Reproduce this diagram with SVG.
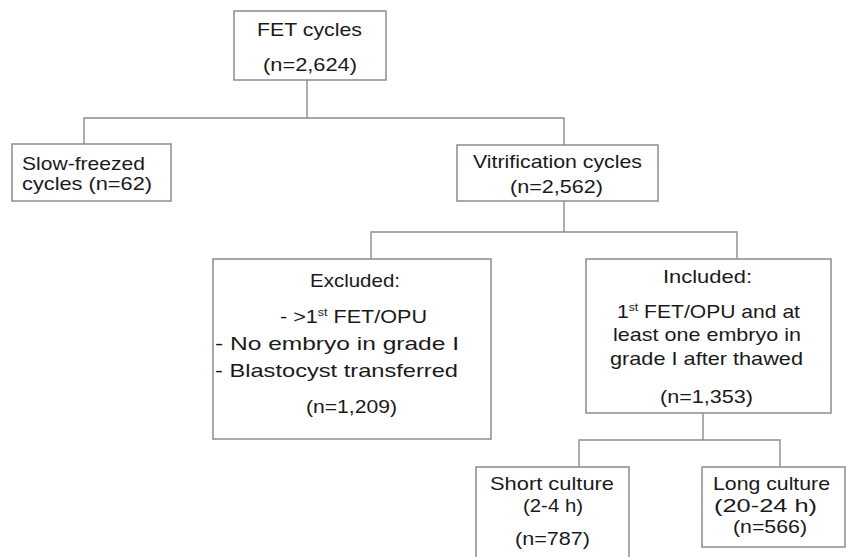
<svg xmlns="http://www.w3.org/2000/svg" width="846" height="557" viewBox="0 0 846 557">
<style>
.box{fill:#fff;stroke:#8c8c8c;stroke-width:1.5}
.ln{fill:none;stroke:#8c8c8c;stroke-width:1.4}
text{font-family:"Liberation Sans",Arial,sans-serif;font-size:19px;fill:#1a1a1a}
.sup{font-size:11px}
</style>
<rect width="846" height="557" fill="#fff"/>
<g id="connectors">
<path class="ln" d="M307,80V118M84,144V118H564V145"/>
<path class="ln" d="M564,201V232M371,259V232H737V259"/>
<path class="ln" d="M703,413V440M579,467V440H780V467"/>
</g>
<g id="fet">
<rect class="box" x="234" y="11" width="152" height="69"/>
<text x="257" y="36" textLength="105" lengthAdjust="spacingAndGlyphs">FET cycles</text>
<text x="263" y="71" textLength="94" lengthAdjust="spacingAndGlyphs">(n=2,624)</text>
</g>
<g id="slow">
<rect class="box" x="12" y="144" width="159" height="57"/>
<text x="22" y="170" textLength="123" lengthAdjust="spacingAndGlyphs">Slow-freezed</text>
<text x="22" y="190" textLength="130" lengthAdjust="spacingAndGlyphs">cycles (n=62)</text>
</g>
<g id="vitrification">
<rect class="box" x="457" y="145" width="201" height="56"/>
<text x="473" y="168" textLength="169" lengthAdjust="spacingAndGlyphs">Vitrification cycles</text>
<text x="510" y="193" textLength="93" lengthAdjust="spacingAndGlyphs">(n=2,562)</text>
</g>
<g id="excluded">
<rect class="box" x="213" y="259" width="278" height="180"/>
<text x="310" y="287" textLength="90" lengthAdjust="spacingAndGlyphs">Excluded:</text>
<text x="280" y="323" textLength="147" lengthAdjust="spacingAndGlyphs">- &gt;1<tspan class="sup" dy="-7">st</tspan><tspan dy="7"> FET/OPU</tspan></text>
<text x="215" y="350" textLength="244" lengthAdjust="spacingAndGlyphs">- No embryo in grade I</text>
<text x="215" y="377" textLength="243" lengthAdjust="spacingAndGlyphs">- Blastocyst transferred</text>
<text x="306" y="413" textLength="91" lengthAdjust="spacingAndGlyphs">(n=1,209)</text>
</g>
<g id="included">
<rect class="box" x="586" y="259" width="245" height="154"/>
<text x="663" y="283" textLength="89" lengthAdjust="spacingAndGlyphs">Included:</text>
<text x="617" y="318" textLength="183" lengthAdjust="spacingAndGlyphs">1<tspan class="sup" dy="-7">st</tspan><tspan dy="7"> FET/OPU and at</tspan></text>
<text x="613" y="341" textLength="188" lengthAdjust="spacingAndGlyphs">least one embryo in</text>
<text x="610" y="365" textLength="193" lengthAdjust="spacingAndGlyphs">grade I after thawed</text>
<text x="660" y="403" textLength="93" lengthAdjust="spacingAndGlyphs">(n=1,353)</text>
</g>
<g id="short">
<rect class="box" x="476" y="467" width="153" height="100"/>
<text x="490" y="490" textLength="124" lengthAdjust="spacingAndGlyphs">Short culture</text>
<text x="523" y="512" textLength="60" lengthAdjust="spacingAndGlyphs">(2-4 h)</text>
<text x="515" y="545" textLength="75" lengthAdjust="spacingAndGlyphs">(n=787)</text>
</g>
<g id="long">
<rect class="box" x="702" y="467" width="143" height="80"/>
<text x="713" y="490" textLength="117" lengthAdjust="spacingAndGlyphs">Long culture</text>
<text x="714" y="512" textLength="103" lengthAdjust="spacingAndGlyphs">(20-24 h)</text>
<text x="733" y="533" textLength="74" lengthAdjust="spacingAndGlyphs">(n=566)</text>
</g>
</svg>
